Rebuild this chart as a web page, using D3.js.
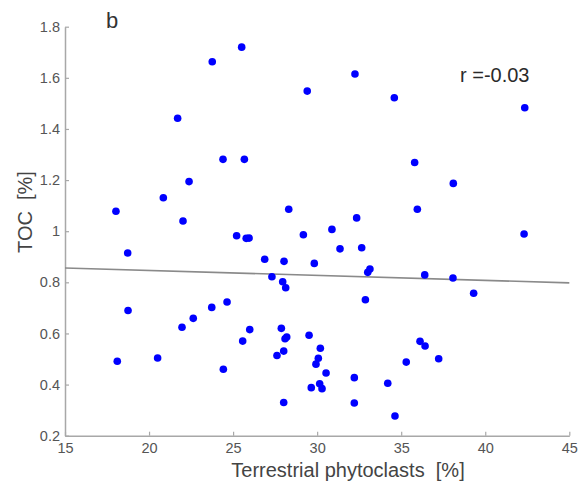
<!DOCTYPE html>
<html>
<head>
<meta charset="utf-8">
<script src="https://cdn.jsdelivr.net/npm/d3@7"></script>
<style>
  html, body { margin: 0; padding: 0; background: #fff; }
  svg { display: block; font-family: "Liberation Sans", Arial, Helvetica, sans-serif; }
  svg text { white-space: pre; }
</style>
</head>
<body>
<svg id="chart" width="580" height="490"></svg>
<script>
// Terrestrial phytoclasts (%) for each sample
const phytoclasts = [
  25.51, 23.76, 21.70, 24.40, 25.67, 22.38, 20.85, 18.03, 22.02, 25.21,
  25.78, 25.95, 28.31, 32.25, 29.41, 34.59, 42.35, 35.80, 38.10, 35.96,
  32.35, 30.88, 29.18, 42.31, 31.36, 32.65, 18.73, 26.88, 28.03, 27.31,
  27.95, 28.13, 18.75, 24.64, 23.73, 22.63, 21.96, 25.99, 27.87, 25.57,
  28.09, 28.19, 28.01, 27.61, 18.11, 20.51, 24.42, 28.01, 29.83, 33.14,
  33.01, 36.40, 38.08, 39.31, 32.87, 29.52, 30.19, 30.07, 29.93, 30.53,
  32.21, 30.15, 30.29, 29.65, 34.20, 32.21, 34.63, 36.12, 36.42, 35.30,
  37.23
];
// TOC (%) for the same samples
const toc = [
  1.720, 1.663, 1.442, 1.281, 1.281, 1.194, 1.131, 1.078, 1.040, 0.982,
  0.972, 0.973, 1.086, 1.615, 1.548, 1.522, 1.483, 1.269, 1.187, 1.086,
  1.052, 1.007, 0.986, 0.989, 0.931, 0.935, 0.915, 0.890, 0.882, 0.822,
  0.802, 0.779, 0.690, 0.723, 0.702, 0.659, 0.624, 0.615, 0.620, 0.570,
  0.579, 0.586, 0.531, 0.514, 0.491, 0.504, 0.460, 0.330, 0.874, 0.852,
  0.839, 0.829, 0.817, 0.757, 0.732, 0.593, 0.542, 0.503, 0.480, 0.445,
  0.427, 0.403, 0.384, 0.388, 0.405, 0.328, 0.277, 0.569, 0.551, 0.488,
  0.501
];
// Linear fit endpoints (x, TOC)
const fitX = [15, 45];
const fitY = [0.856, 0.798];

const xTicks = [15, 20, 25, 30, 35, 40, 45];
const yTicks = [0.2, 0.4, 0.6, 0.8, 1, 1.2, 1.4, 1.6, 1.8];

const panelLabel = "b";
const corrLabel = "r =-0.03";
const xTitle = "Terrestrial phytoclasts  [%]";
const yTitle = "TOC  [%]";

const svg = d3.select("#chart");
const plotLeft = 65, plotRight = 569.3, plotTop = 26.7, plotBottom = 435.7;

const x = d3.scaleLinear().domain([15, 45]).range([plotLeft, plotRight]);
const y = d3.scaleLinear().domain([0.2, 1.8]).range([plotBottom, plotTop]);

const axisColor = "#a8a8a8";
const tickText = "#555";

// bottom axis, ticks pointing inward
const gx = svg.append("g")
  .attr("transform", `translate(0,${plotBottom})`)
  .call(d3.axisBottom(x).tickValues(xTicks).tickSize(-4).tickSizeOuter(0).tickPadding(7)
    .tickFormat(d3.format("d")));
gx.select(".domain").attr("stroke", axisColor).attr("stroke-width", 1.5);
gx.selectAll(".tick line").attr("stroke", axisColor).attr("stroke-width", 1.2);
gx.selectAll(".tick text").attr("fill", tickText).attr("font-size", 14.5)
  .attr("font-family", "Liberation Sans, Arial, sans-serif");

// left axis, ticks pointing inward
const gy = svg.append("g")
  .attr("transform", `translate(${plotLeft},0)`)
  .call(d3.axisLeft(y).tickValues(yTicks).tickSize(-4).tickSizeOuter(0).tickPadding(5)
    .tickFormat(d => d3.format("~g")(d)));
gy.select(".domain").attr("stroke", axisColor).attr("stroke-width", 1.5);
gy.selectAll(".tick line").attr("stroke", axisColor).attr("stroke-width", 1.2);
gy.selectAll(".tick text").attr("fill", tickText).attr("font-size", 14.5)
  .attr("font-family", "Liberation Sans, Arial, sans-serif");

// regression line
svg.append("line")
  .attr("x1", x(fitX[0])).attr("y1", y(fitY[0]))
  .attr("x2", x(fitX[1])).attr("y2", y(fitY[1]))
  .attr("stroke", "#8a8a8a").attr("stroke-width", 1.6);

// samples
svg.append("g").selectAll("circle")
  .data(d3.range(phytoclasts.length))
  .join("circle")
  .attr("cx", i => x(phytoclasts[i]))
  .attr("cy", i => y(toc[i]))
  .attr("r", 3.8)
  .attr("fill", "#0000ff");

// panel letter and correlation coefficient
svg.append("text").attr("x", 106).attr("y", 28)
  .attr("font-size", 22).attr("fill", "#333").text(panelLabel);
svg.append("text").attr("x", 460).attr("y", 82)
  .attr("font-size", 20).attr("fill", "#2a2a2a").text(corrLabel);

// axis titles
svg.append("text").attr("x", 348).attr("y", 477)
  .attr("text-anchor", "middle").attr("font-size", 20).attr("fill", "#444")
  .text(xTitle);
svg.append("text")
  .attr("transform", `translate(32,212) rotate(-90)`)
  .attr("text-anchor", "middle").attr("font-size", 20).attr("fill", "#444")
  .text(yTitle);
</script>
</body>
</html>
